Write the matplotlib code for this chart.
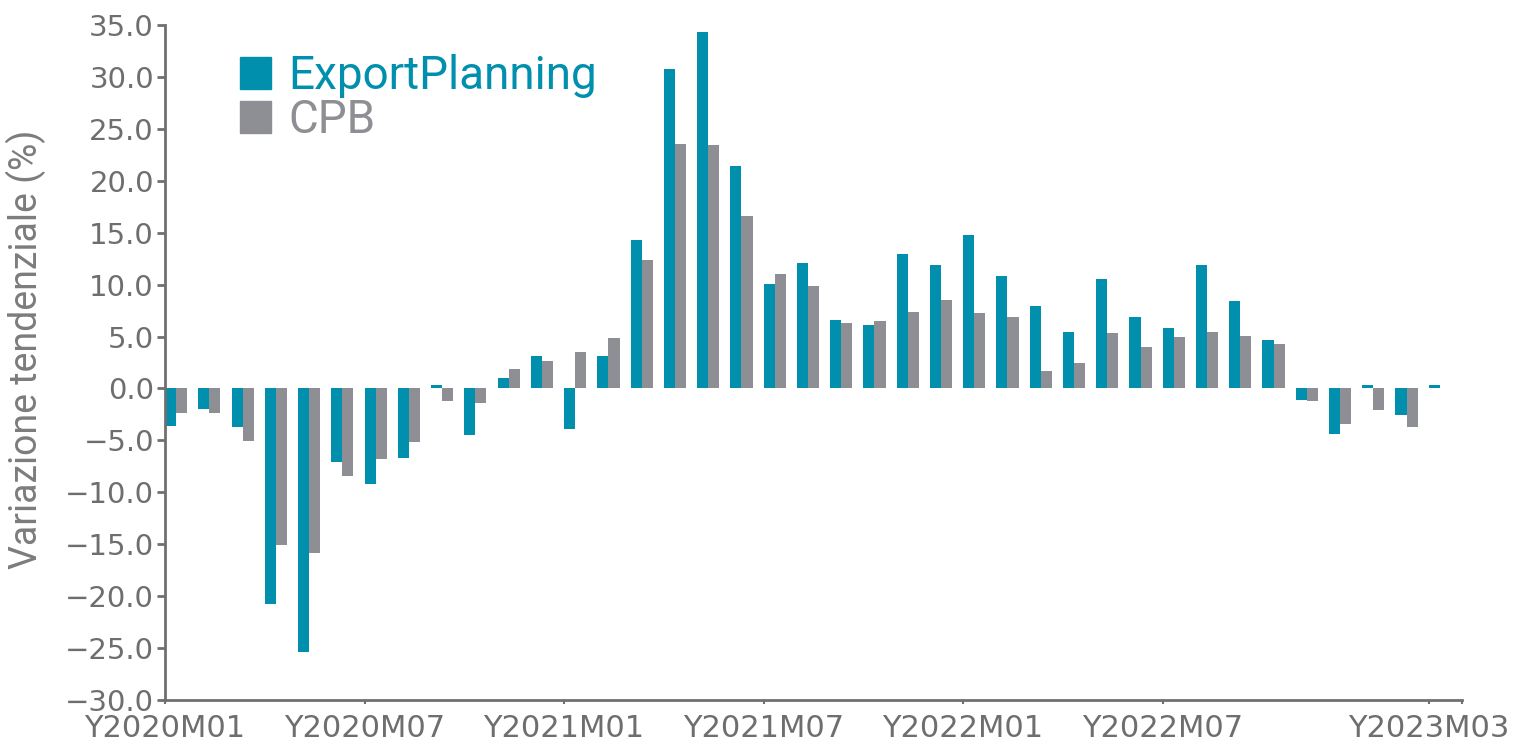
import numpy as np
import matplotlib
matplotlib.use("Agg")
import matplotlib.pyplot as plt
import matplotlib.transforms as mtransforms
from matplotlib.patches import Patch

# mesi da Y2020M01 a Y2023M03
mesi = [f"Y{y}M{m:02d}" for y in (2020, 2021, 2022, 2023) for m in range(1, 13)][:39]

export_planning = [-3.6, -2.0, -3.7, -20.8, -25.4, -7.1, -9.2, -6.7, 0.3, -4.5,
                   1.0, 3.1, -3.9, 3.1, 14.3, 30.8, 34.3, 21.4, 10.1, 12.1,
                   6.6, 6.1, 12.9, 11.9, 14.8, 10.8, 7.9, 5.4, 10.5, 6.9,
                   5.8, 11.9, 8.4, 4.7, -1.1, -4.4, 0.3, -2.6, 0.3]
cpb = [-2.4, -2.4, -5.1, -15.1, -15.8, -8.4, -6.8, -5.2, -1.2, -1.4,
       1.9, 2.6, 3.5, 4.9, 12.4, 23.5, 23.4, 16.6, 11.0, 9.9,
       6.3, 6.5, 7.4, 8.5, 7.3, 6.9, 1.7, 2.5, 5.3, 4.0,
       5.0, 5.4, 5.1, 4.3, -1.2, -3.4, -2.1, -3.7, np.nan]

tick_mesi = ["Y2020M01", "Y2020M07", "Y2021M01", "Y2021M07", "Y2022M01", "Y2022M07", "Y2023M03"]

teal = "#0090ae"
grigio = "#8e8f94"
testo = "#6e6e6e"

fig = plt.figure(figsize=(15.21, 7.41), dpi=100)
ax = fig.add_axes([165 / 1521, 1 - 700 / 741, (1462 - 165) / 1521, (700 - 25) / 741])

x = np.arange(len(mesi))
ax.bar(x, export_planning, width=1 / 3, align="edge", color=teal, linewidth=0)
ax.bar(x + 1 / 3, cpb, width=1 / 3, align="edge", color=grigio, linewidth=0)

ax.set_xlim(0, len(mesi))
ax.set_ylim(-30, 35)
ax.set_yticks(np.arange(-30, 36, 5))
ax.set_yticklabels([f"{v:.1f}".replace("-", "\u2212") for v in np.arange(-30, 36, 5)])

pos = [mesi.index(m) for m in tick_mesi]
ax.set_xticks(pos + [len(mesi)])
ax.set_xticklabels(tick_mesi + [""])
offset = mtransforms.ScaledTranslation(0.10, 0, fig.dpi_scale_trans)
for lab in ax.get_xticklabels():
    lab.set_transform(lab.get_transform() + offset)

for s in ("top", "right"):
    ax.spines[s].set_visible(False)
for s in ("left", "bottom"):
    ax.spines[s].set_color("#707070")
    ax.spines[s].set_linewidth(2)

ax.tick_params(axis="y", colors="#707070", labelcolor=testo, labelsize=21,
               length=6, width=2, pad=2)
ax.tick_params(axis="x", colors="#707070", labelcolor=testo, labelsize=22,
               length=3, width=1.5, pad=7)

ax.set_ylabel("Variazione tendenziale (%)", family="Roboto", fontsize=27,
              color="#7c7c7c")
ax.yaxis.set_label_coords((46 - 165) / 1297, (700 - 349) / 675)

handles = [Patch(color=teal), Patch(color=grigio)]
leg = ax.legend(handles, ["ExportPlanning", "CPB"], loc="upper left",
                bbox_to_anchor=(240 / 1521, 1 - 54 / 741), bbox_transform=fig.transFigure,
                frameon=False, prop={"family": "Roboto", "size": 33},
                handlelength=0.68, handleheight=0.68, handletextpad=0.38,
                labelspacing=0.0, borderpad=0, borderaxespad=0,
                labelcolor=[teal, grigio])

fig.savefig("out.png", dpi=100)
